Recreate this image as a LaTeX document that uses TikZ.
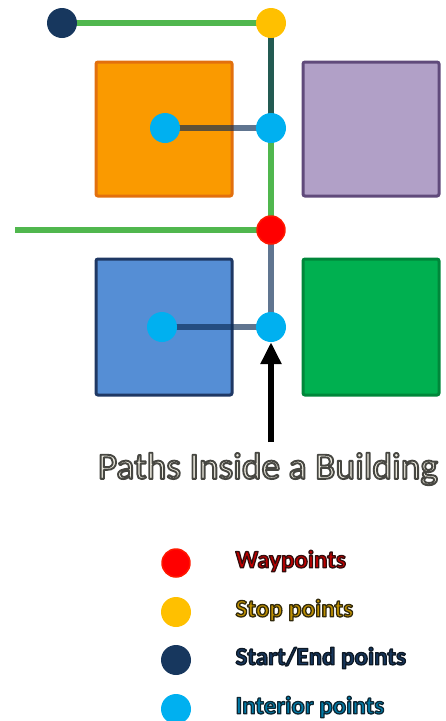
\documentclass[tikz,border=0pt]{standalone}
\usepackage{fontspec}
\setmainfont{Carlito}
\usetikzlibrary{arrows.meta}
\definecolor{routegreen}{HTML}{50B74E}
\definecolor{routenavy}{HTML}{0B2B55}
\definecolor{startcol}{HTML}{17375E}
\definecolor{stopcol}{HTML}{FFC000}
\definecolor{waycol}{HTML}{FF0000}
\definecolor{interiorcol}{HTML}{00B0F0}
\definecolor{titlefill}{HTML}{EEECE1}
\pgfdeclarelayer{blocks}
\pgfdeclarelayer{routes}
\pgfsetlayers{blocks,routes,main}
% glyphs filled and stroked (text render mode 2): #1 stroke rgb, #2 width
\newcommand\outlinetext[3]{\special{pdf:literal direct #1 RG #2 w 1 j 2 Tr}#3\special{pdf:literal direct 0 Tr}}
\tikzset{
  dot/.style={circle,minimum size=30pt,inner sep=0pt},
  block/.style={line width=3pt,rounded corners=2pt},
  legendtext/.style={anchor=west,font=\bfseries\fontsize{25}{25}\selectfont}
}
\begin{document}
\begin{tikzpicture}[x=1pt,y=-1pt,line join=round]
	\useasboundingbox (0,0) rectangle (445,721);
	% points along the route
	\node[dot,fill=startcol] (start) at (62,23) {};
	\node[dot,fill=stopcol] (stop) at (271,23) {};
	\node[dot,fill=interiorcol] (int1) at (271,128) {};
	\node[dot,fill=interiorcol] (room1) at (165,128) {};
	\node[dot,fill=waycol,draw=red!80!orange,line width=1.5pt,minimum size=28pt] (way) at (271,230) {};
	\node[dot,fill=interiorcol] (int2) at (271,327) {};
	\node[dot,fill=interiorcol] (room2) at (162,327) {};
	\coordinate (exit) at (15,230);
	\coordinate (tail) at (271,442);
	% buildings
	\begin{pgfonlayer}{blocks}
		\draw[block,fill={rgb,255:red,250;green,154;blue,0},draw={rgb,255:red,226;green,112;blue,14}] (96,62) rectangle (232,196);
		\draw[block,fill={rgb,255:red,177;green,160;blue,199},draw={rgb,255:red,96;green,74;blue,123}] (303,62) rectangle (439,196);
		\draw[block,fill={rgb,255:red,85;green,142;blue,213},draw={rgb,255:red,31;green,56;blue,100}] (96,259) rectangle (232,395);
		\draw[block,fill={rgb,255:red,0;green,176;blue,80},draw={rgb,255:red,0;green,135;blue,58}] (303,259) rectangle (439,395);
	\end{pgfonlayer}
	% street route and the paths inside
	\begin{pgfonlayer}{routes}
		\draw[routegreen,line width=6pt] (start.center) -- (stop.center) -- (way.center) -- (exit);
		\draw[routenavy,opacity=0.65,line width=6pt] (stop.center) -- (int1.center) -- (room1.center);
		\draw[routenavy,opacity=0.65,line width=6pt] (way.center) -- (int2.center) -- (room2.center);
	\end{pgfonlayer}
	\draw[-{Triangle[width=20pt,length=22pt]},line width=6pt] (tail) -- (int2.south);
	\node[font=\fontsize{37.5}{37.5}\selectfont] (title) at (268,469)
		{\textcolor{titlefill}{\outlinetext{0.28 0.28 0.26}{1.9}{Paths Inside a Building}}};
	% legend
	\node[dot,fill=waycol,draw=red!80!orange,line width=1.5pt,minimum size=28pt] (lway) at (176,563) {};
	\node[dot,fill=stopcol] (lstop) at (176,612) {};
	\node[dot,fill=startcol] (lstart) at (176,660) {};
	\node[dot,fill=interiorcol] (lint) at (176,709) {};
	\node[legendtext] (tway) at (232,561) {\textcolor{red!75!black}{\outlinetext{0.2 0.05 0.05}{1.3}{Waypoints}}};
	\node[legendtext] (tstop) at (232,610) {\textcolor{stopcol!75!black}{\outlinetext{0.2 0.17 0.05}{1.3}{Stop points}}};
	\node[legendtext] (tstart) at (232,658) {\textcolor{startcol}{\outlinetext{0.05 0.1 0.15}{1.3}{Start/End points}}};
	\node[legendtext] (tint) at (232,707) {\textcolor{interiorcol!70!black}{\outlinetext{0.05 0.15 0.2}{1.3}{Interior points}}};
\end{tikzpicture}
\end{document}
